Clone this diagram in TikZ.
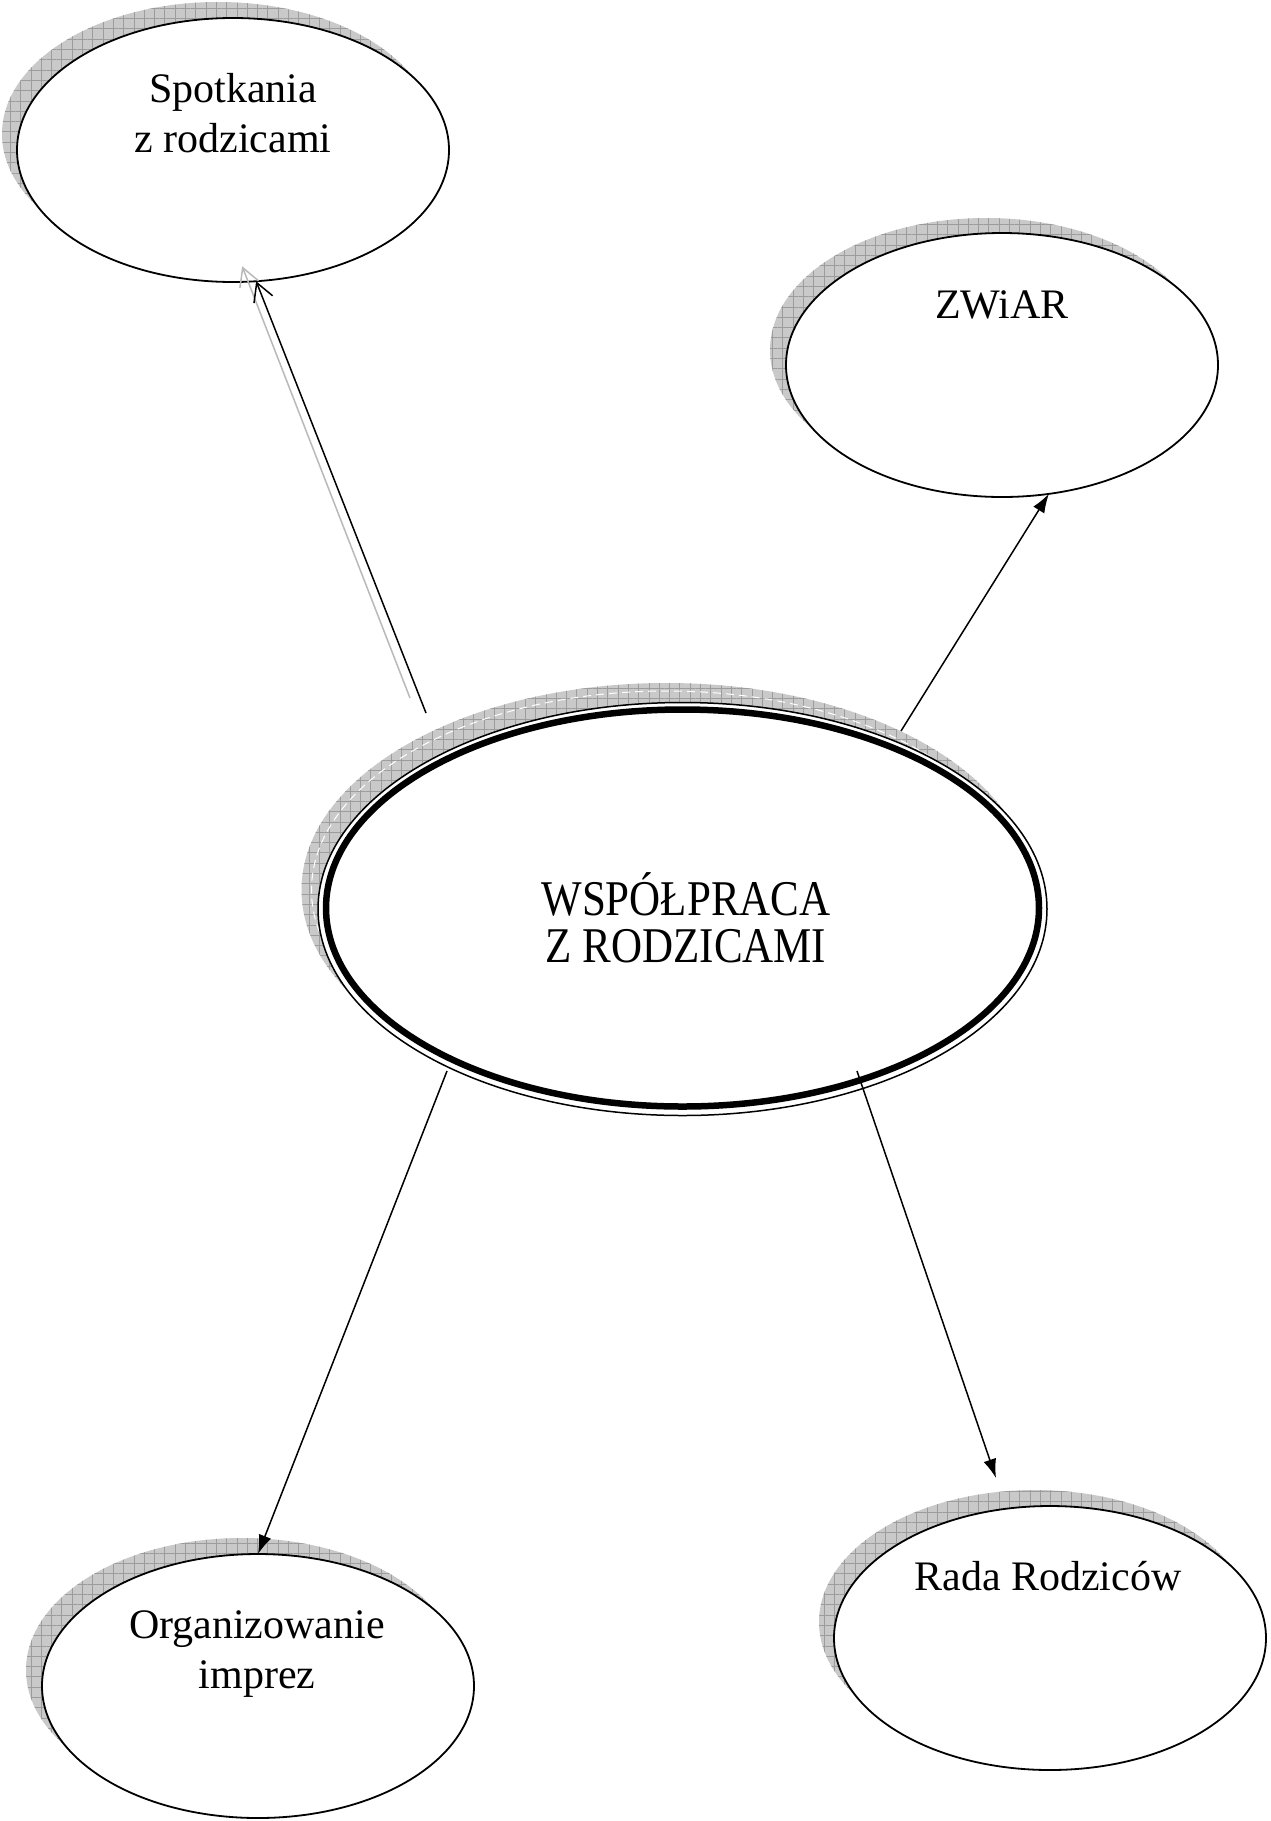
\documentclass[tikz,border=0pt]{standalone}
\usepackage{fontspec}
\setmainfont{Liberation Serif}
\newfontfamily\condensedfont[FakeStretch=0.86]{Liberation Serif}
\usetikzlibrary{shapes.geometric,arrows.meta,patterns.meta}

\begin{document}
\begin{tikzpicture}[x=1pt,y=-1pt,
  bub/.style={ellipse,draw=black,line width=1.8pt,fill=white,minimum width=432pt,minimum height=264pt,inner sep=0pt,outer sep=0pt},
  shadowfill/.style={fill=gray!42,postaction={pattern={Hatch[angle=0,distance=10.3pt,line width=0.7pt]},pattern color=gray!78}},
  lbl/.style={font=\fontsize{42}{50}\selectfont,align=center,anchor=base,inner sep=0pt},
  conn/.style={line width=1.5pt,-{Latex[length=19pt,width=13pt]}},
  openconn/.style={line width=1.5pt,-{Straight Barb[length=18pt,width=20pt]}},
]
\fill[white] (0,0) rectangle (1271,1821);
\useasboundingbox (0,0) rectangle (1271,1821);

% shadows of the small bubbles
\path[shadowfill] (218,134) ellipse [x radius=216, y radius=132];
\path[shadowfill] (986,350) ellipse [x radius=216, y radius=132];
\path[shadowfill] (242,1670) ellipse [x radius=216, y radius=132];
\path[shadowfill] (1035,1622) ellipse [x radius=216, y radius=132];

% small bubbles
\node[bub] (spot) at (233,150) {};
\node[bub] (zwiar) at (1002,365) {};
\node[bub] (org) at (258,1686) {};
\node[bub] (rada) at (1050,1638) {};

% (multi-line labels: base anchor = baseline of last line)
\node[lbl] (spottxt) at (233,152) {Spotkania\\z rodzicami};
\node[lbl] (zwiartxt) at (1002,318) {ZWiAR};
\node[lbl] (orgtxt) at (257,1688) {Organizowanie\\imprez};
\node[lbl] (radatxt) at (1048,1590) {Rada Rodziców};

% central bubble
\path[shadowfill] (666.5,890) ellipse [x radius=365, y radius=207];
\draw[white,line width=1pt,dash pattern=on 8pt off 5pt] (666.5,890) ellipse [x radius=355, y radius=199];
\node[ellipse,draw,line width=1.5pt,fill=white,minimum width=729pt,minimum height=413pt,inner sep=0pt,outer sep=0pt] (cen) at (682.5,909) {};
\node[ellipse,draw,line width=6.5pt,minimum width=713pt,minimum height=397pt,inner sep=0pt,outer sep=0pt] (cenin) at (682.5,908) {};
\node[font=\condensedfont\fontsize{50}{47}\selectfont,align=center,anchor=base,inner sep=0pt] (centxt) at (686,962) {WSPÓŁPRACA\\Z RODZICAMI};

% connectors
\coordinate (a1s) at (426,713);
\coordinate (a2s) at (901,731);
\coordinate (a3s) at (447,1071);
\coordinate (a4s) at (857,1071);
\coordinate (a4e) at (996,1478);

\draw[openconn,gray!55] ([shift={(-16,-15)}]a1s) -- ([shift={(-14,-15)}]spot.-80);
\draw[openconn] (a1s) -- (spot.-80);
\draw[conn] (a2s) -- (zwiar.-70.5);
\draw[conn] (a3s) -- (org.90);
\draw[conn] (a4s) -- (a4e);
\end{tikzpicture}
\end{document}
